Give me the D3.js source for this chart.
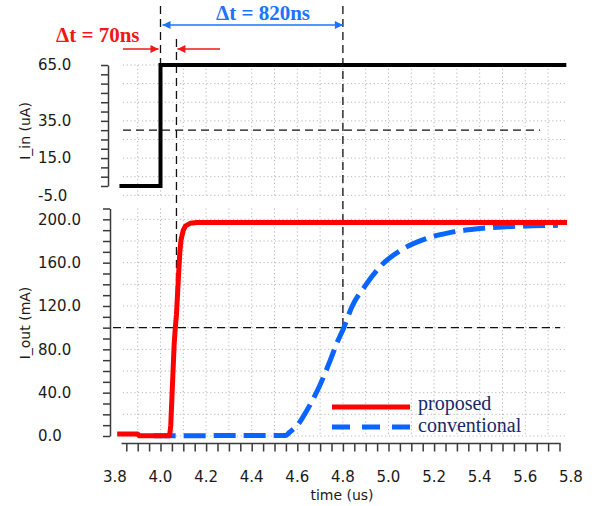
<!DOCTYPE html>
<html>
<head>
<meta charset="utf-8">
<script src="https://cdn.jsdelivr.net/npm/d3@7"></script>
<style>
  body { margin: 0; background: #fff; }
  svg { display: block; }
</style>
</head>
<body>
<svg id="chart" width="600" height="506"></svg>
<script>
// tick labels
const timeTicks = [3.8, 4.0, 4.2, 4.4, 4.6, 4.8, 5.0, 5.2, 5.4, 5.6, 5.8];
const inTicks = [65, 35, 15, -5];
const outTicks = [0, 40, 80, 120, 160, 200];

// I_in (uA) step
const inputTime = [3.82, 4.0, 4.0, 5.78];
const inputVal = [0, 0, 65, 65];

// I_out proposed (mA)
const proposedTime = [3.81, 3.9, 3.905, 4.04, 4.045, 4.05, 4.055, 4.06, 4.065, 4.07, 4.075, 4.08, 4.085, 4.09, 4.1, 4.11, 4.13, 4.16, 5.783];
const proposedVal = [1.8, 1.8, 0.3, 0.3, 10, 35, 60, 85, 100, 112, 132, 152, 170, 181, 190, 194, 196.3, 197, 197];

// I_out conventional (mA)
const conventionalTime = [3.97, 4.55, 4.564, 4.608, 4.643, 4.695, 4.739, 4.774, 4.804, 4.839, 4.899, 4.971, 5.058, 5.162, 5.263, 5.38, 5.5, 5.63, 5.743];
const conventionalVal = [0.3, 0.5, 3, 12, 24, 45, 67, 86, 100, 119, 139, 158, 172, 182, 187.5, 191, 193, 194, 194.5];

// markers
const markerTimes = [4.0, 4.07, 4.8];
const inThreshold = 30;
const outThreshold = 100;

const svg = d3.select("#chart");
const tickFont = "DejaVu Sans, Verdana, sans-serif";
const serif = "Liberation Serif, Times New Roman, serif";
const gridColor = "#b8b8b8";
const axisColor = "#3a3a3a";

// scales
const x = d3.scaleLinear().domain([4.0, 5.0]).range([160.5, 388.5]);
const yIn = d3.scaleLinear().domain([0, 65]).range([186, 65]);
const yOut = d3.scaleLinear().domain([0, 210]).range([436, 208.5]);

const gridX0 = x(3.835), gridX1 = x(5.775);
const vGrid = d3.range(39, 58).map(d => d / 10);

/**
 * Grids
 */
function drawGrid(yScale, hValues, yTop, yBottom) {
    const g = svg.append("g")
        .attr("stroke", gridColor)
        .attr("stroke-width", 1)
        .attr("stroke-dasharray", "1.2,2.6");
    g.selectAll(".h").data(hValues).join("line")
        .attr("x1", gridX0).attr("x2", gridX1)
        .attr("y1", d => yScale(d)).attr("y2", d => yScale(d));
    g.selectAll(".v").data(vGrid).join("line")
        .attr("x1", d => x(d)).attr("x2", d => x(d))
        .attr("y1", yTop).attr("y2", yBottom);
}
drawGrid(yIn, d3.range(-5, 66, 10), yIn(65), yIn(-5));
drawGrid(yOut, d3.range(0, 201, 20), yOut(210), yOut(0));

/**
 * Dashed helper lines
 */
const dashed = svg.append("g")
    .attr("stroke", "#111")
    .attr("stroke-width", 1.3)
    .attr("stroke-dasharray", "8,5")
    .attr("fill", "none");

dashed.append("line")
    .attr("x1", x(markerTimes[0])).attr("x2", x(markerTimes[0]))
    .attr("y1", 6).attr("y2", yIn(65));
dashed.append("line")
    .attr("x1", x(markerTimes[1])).attr("x2", x(markerTimes[1]))
    .attr("y1", 39).attr("y2", yOut(outThreshold));
dashed.append("line")
    .attr("x1", x(markerTimes[2])).attr("x2", x(markerTimes[2]))
    .attr("y1", 6).attr("y2", yOut(outThreshold));
dashed.append("line")
    .attr("x1", 123).attr("x2", 540)
    .attr("y1", yIn(inThreshold)).attr("y2", yIn(inThreshold));
dashed.append("line")
    .attr("x1", 113).attr("x2", 560)
    .attr("y1", yOut(outThreshold)).attr("y2", yOut(outThreshold));

/**
 * Axes
 */
function drawYAxis(scale, axisX, step, labels, label, labelY) {
    const [lo, hi] = scale.domain();
    const axis = d3.axisLeft(scale)
        .tickValues(d3.range(lo, hi + 0.01, step))
        .tickFormat("")
        .tickSize(7)
        .tickSizeOuter(0);
    const g = svg.append("g")
        .attr("transform", `translate(${axisX},0)`)
        .call(axis);
    g.selectAll("path, line").attr("stroke", axisColor).attr("stroke-width", 1.5);

    svg.append("g").selectAll("text").data(labels).join("text")
        .attr("x", 38)
        .attr("y", d => scale(d))
        .attr("dy", "0.36em")
        .attr("font-family", tickFont)
        .attr("font-size", 15)
        .attr("fill", "#1a1a1a")
        .text(d => d.toFixed(1));

    svg.append("text")
        .attr("transform", `translate(30,${labelY}) rotate(-90)`)
        .attr("text-anchor", "middle")
        .attr("font-family", tickFont)
        .attr("font-size", 14)
        .attr("fill", "#1a1a1a")
        .text(label);
}
drawYAxis(yIn, 108, 5, inTicks, "I_in (uA)", 131);
drawYAxis(yOut, 110, 10, outTicks, "I_out (mA)", 323);

const xAxis = d3.axisBottom(x)
    .tickValues(d3.range(3.85, 5.76, 0.05))
    .tickFormat("")
    .tickSize(8)
    .tickSizeOuter(0);
const xg = svg.append("g")
    .attr("transform", "translate(0,443.5)")
    .call(xAxis);
xg.select(".domain").remove();
xg.selectAll("line").attr("stroke", axisColor).attr("stroke-width", 1.5);
xg.append("line")
    .attr("x1", 121.5).attr("x2", x(5.755))
    .attr("stroke", axisColor).attr("stroke-width", 1.5);

svg.append("g").selectAll("text").data(timeTicks).join("text")
    .attr("x", d => x(d))
    .attr("y", 477)
    .attr("dy", "0.36em")
    .attr("text-anchor", "middle")
    .attr("font-family", tickFont)
    .attr("font-size", 15)
    .attr("fill", "#1a1a1a")
    .text(d => d.toFixed(1));

svg.append("text")
    .attr("x", 342).attr("y", 495).attr("dy", "0.36em")
    .attr("text-anchor", "middle")
    .attr("font-family", tickFont)
    .attr("font-size", 14)
    .attr("fill", "#1a1a1a")
    .text("time (us)");

/**
 * Series
 */
const lineIn = d3.line().x((d, i) => x(inputTime[i])).y(d => yIn(d));
const lineOut = times => d3.line().x((d, i) => x(times[i])).y(d => yOut(d));

svg.append("path")
    .datum(conventionalVal)
    .attr("fill", "none")
    .attr("stroke", "#0a64ff")
    .attr("stroke-width", 5)
    .attr("stroke-dasharray", "22,8")
    .attr("d", lineOut(conventionalTime).curve(d3.curveMonotoneX));

svg.append("path")
    .datum(proposedVal)
    .attr("fill", "none")
    .attr("stroke", "#ff0000")
    .attr("stroke-width", 5)
    .attr("stroke-linejoin", "round")
    .attr("d", lineOut(proposedTime));

svg.append("path")
    .datum(inputVal)
    .attr("fill", "none")
    .attr("stroke", "#000")
    .attr("stroke-width", 4)
    .attr("d", lineIn);

/**
 * Legend
 */
const legend = [
    {name: "proposed", color: "#ff0000", dash: null, y: 407, ty: 410},
    {name: "conventional", color: "#0a64ff", dash: "18,12", y: 427, ty: 432}
];
legend.forEach(l => {
    svg.append("line")
        .attr("x1", 332).attr("x2", 410)
        .attr("y1", l.y).attr("y2", l.y)
        .attr("stroke", l.color)
        .attr("stroke-width", 5)
        .attr("stroke-dasharray", l.dash);
    svg.append("text")
        .attr("x", 418).attr("y", l.ty)
        .attr("font-family", serif)
        .attr("font-size", 20)
        .attr("fill", "#14286a")
        .text(l.name);
});

/**
 * Annotations
 */
const defs = svg.append("defs");
[["arrowRed", "#f01818"], ["arrowBlue", "#1a74ff"]].forEach(([id, c]) => {
    defs.append("marker")
        .attr("id", id)
        .attr("viewBox", "0 0 10 10")
        .attr("refX", 10).attr("refY", 5)
        .attr("markerWidth", 10).attr("markerHeight", 8)
        .attr("markerUnits", "userSpaceOnUse")
        .attr("orient", "auto-start-reverse")
        .append("path")
        .attr("d", "M0,0L10,5L0,10z")
        .attr("fill", c);
});

svg.append("line")
    .attr("x1", x(markerTimes[0]) + 2).attr("x2", x(markerTimes[2]))
    .attr("y1", 25).attr("y2", 25)
    .attr("stroke", "#1a74ff").attr("stroke-width", 1.5)
    .attr("marker-start", "url(#arrowBlue)")
    .attr("marker-end", "url(#arrowBlue)");

svg.append("line")
    .attr("x1", 123).attr("x2", x(markerTimes[0]) - 2)
    .attr("y1", 49).attr("y2", 49)
    .attr("stroke", "#f01818").attr("stroke-width", 1.5)
    .attr("marker-end", "url(#arrowRed)");
svg.append("line")
    .attr("x1", 220).attr("x2", x(markerTimes[1]) + 1)
    .attr("y1", 49).attr("y2", 49)
    .attr("stroke", "#f01818").attr("stroke-width", 1.5)
    .attr("marker-end", "url(#arrowRed)");

svg.append("text")
    .attr("x", 56).attr("y", 42)
    .attr("font-family", serif).attr("font-weight", "bold")
    .attr("font-size", 21).attr("fill", "#f01818")
    .text("Δt = 70ns");
svg.append("text")
    .attr("x", 216).attr("y", 20)
    .attr("font-family", serif).attr("font-weight", "bold")
    .attr("font-size", 21).attr("fill", "#1a74ff")
    .text("Δt = 820ns");
</script>
</body>
</html>
